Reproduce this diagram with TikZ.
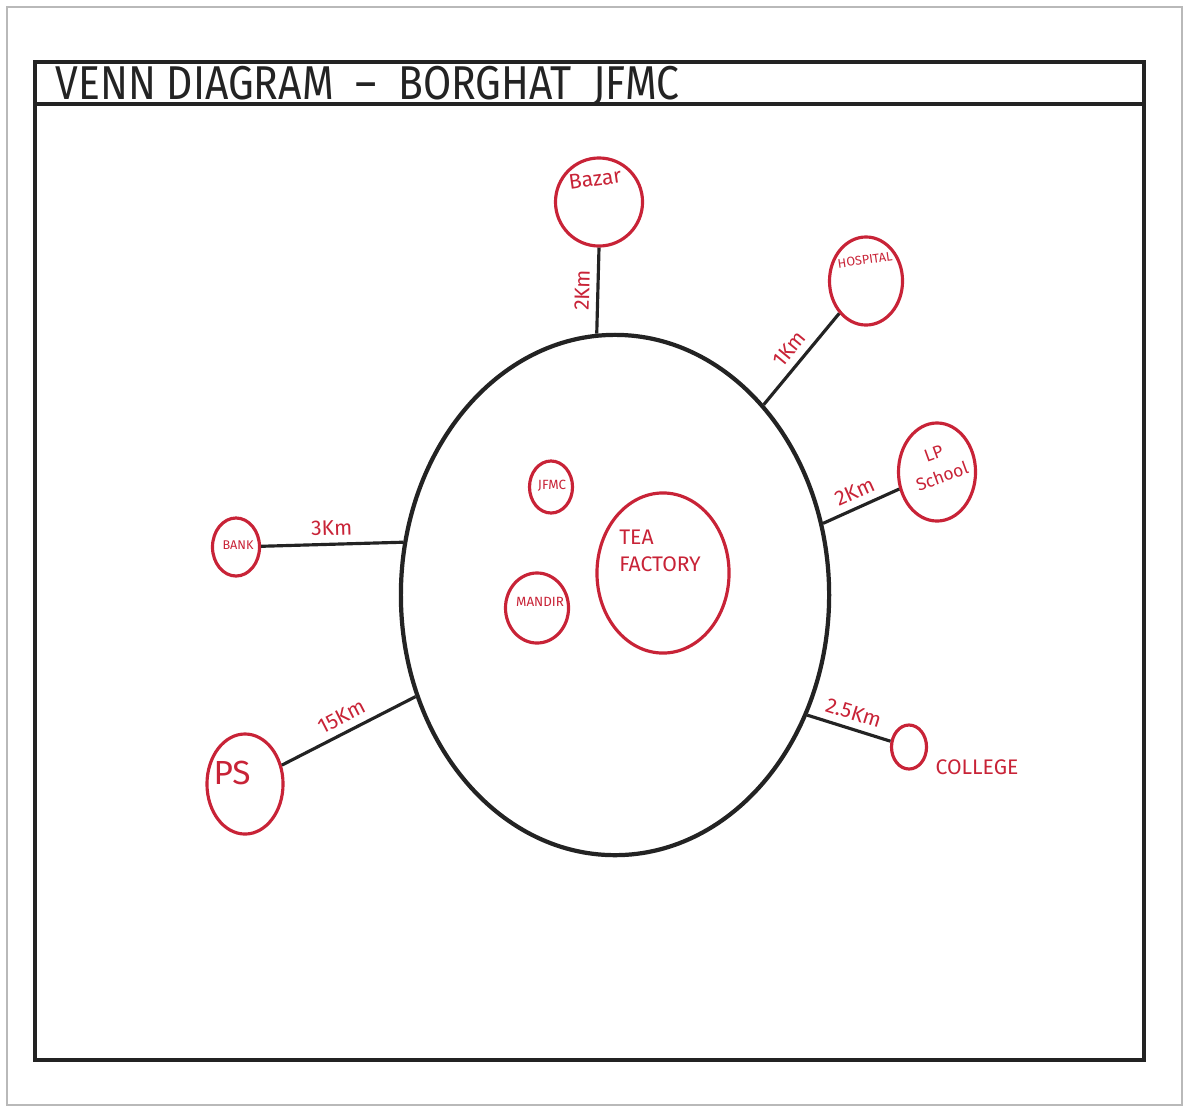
\documentclass[tikz,border=0pt]{standalone}
\usepackage{fontspec}
\setmainfont{Fira Sans}
\usetikzlibrary{shapes.geometric}

\definecolor{penred}{RGB}{200,35,55}
\definecolor{penblack}{RGB}{35,35,35}

\tikzset{
	place/.style={draw=penred, line width=0.9pt, ellipse, inner sep=0pt},
	tag/.style={text=penred, font=\fontsize{6}{6.5}\selectfont, inner sep=1pt, align=center},
	road/.style={draw=penblack, line width=0.9pt},
}

\begin{document}
\begin{tikzpicture}[x=0.01cm, y=-0.01cm]
		\useasboundingbox (0,0) rectangle (1186,1109);
		% sheet and frame
		\draw[gray!55, line width=0.6pt] (7,7) rectangle (1182,1105);
		\draw[penblack, line width=0.9pt] (35,62) rectangle (1144,1060);
		\draw[penblack, line width=0.9pt] (35,104) -- (1144,104);
		\node[anchor=base west, text=penblack, inner sep=0pt, font=\fontsize{13.5}{13.5}\selectfont] (title) at (55,99)
			{\scalebox{0.86}[1]{VENN DIAGRAM\ \ --\ \ BORGHAT\ \ JFMC}};

		% village
		\node[draw=penblack, line width=1.2pt, ellipse, minimum width=4.28cm, minimum height=5.2cm] (village) at (615,595) {};

		% places
		\foreach \nm/\px/\py/\sx/\sy in {bazar/599/202/0.87/0.88, hospital/866/281/0.73/0.88,
				lpschool/937/472/0.77/0.98, bank/236/547/0.47/0.58, ps/245/784/0.76/1.0,
				college/909/747/0.35/0.44, jfmc/551/487/0.43/0.52, mandir/537/608/0.63/0.70,
				teafactory/663/573/1.32/1.6} {
				\node[place, minimum width=\sx cm, minimum height=\sy cm] (\nm) at (\px,\py) {};
			}
		\node[tag, rotate=8] (bazarlbl) at (595,179) {Bazar};
		\node[tag, rotate=8, font=\fontsize{3.6}{4}\selectfont] (hospitallbl) at (865,260) {HOSPITAL};
		\node[tag, rotate=20, font=\fontsize{5}{7}\selectfont] (lpschoollbl) at (938,465) {LP\\School};
		\node[tag, font=\fontsize{3.6}{4}\selectfont] (banklbl) at (238,545) {BANK};
		\node[tag, font=\fontsize{9.5}{10}\selectfont] (pslbl) at (232,773) {PS};
		\node[tag, font=\fontsize{6}{6}\selectfont] (collegelbl) at (977,767) {COLLEGE};
		\node[tag, font=\fontsize{3.8}{4}\selectfont] (jfmclbl) at (552,486) {JFMC};
		\node[tag, font=\fontsize{3.8}{4}\selectfont] (mandirlbl) at (540,602) {MANDIR};
		\node[tag, align=left, font=\fontsize{6}{7.5}\selectfont] (teafactorylbl) at (660,551) {TEA\\FACTORY};

		% distances
		\draw[road] (bazar.south) -- (village.94) node[tag, midway, sloped, above=1pt] {2Km};
		\draw[road] (village.52) -- (hospital) node[tag, midway, sloped, above=1pt] {1Km};
		\draw[road] (village.19) -- (lpschool) node[tag, midway, sloped, above=1pt] {2Km};
		\draw[road] (bank) -- (village.166) node[tag, midway, sloped, above=1pt] {3Km};
		\draw[road] (ps) -- (village.207) node[tag, midway, sloped, above=1pt] {15Km};
		\draw[road] (village.328) -- (college) node[tag, midway, sloped, above=1pt] {2.5Km};
	\end{tikzpicture}
\end{document}
